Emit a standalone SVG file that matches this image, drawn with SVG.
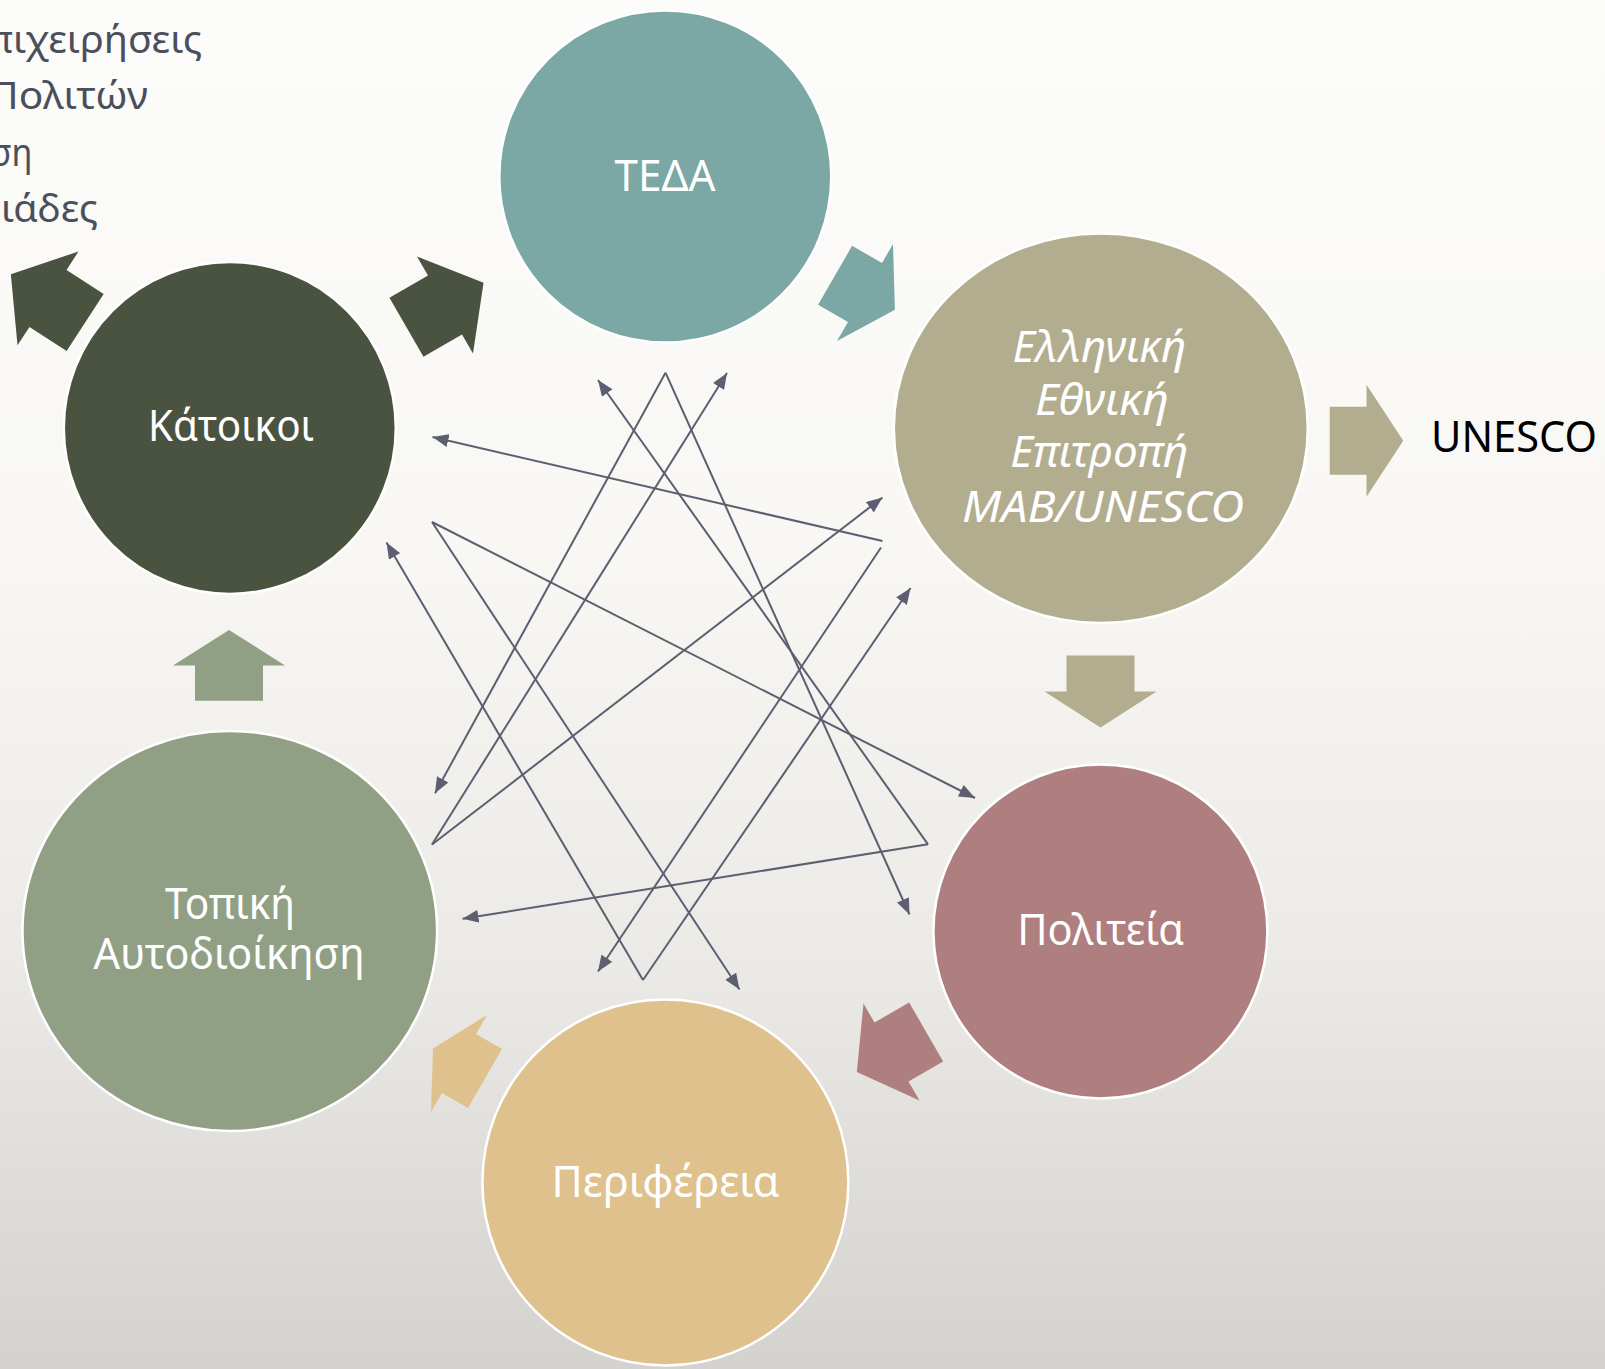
<svg xmlns="http://www.w3.org/2000/svg" width="1605" height="1369" viewBox="0 0 1605 1369">
  <defs>
    <linearGradient id="bg" x1="0" y1="0" x2="0" y2="1">
      <stop offset="0" stop-color="#FCFCFA"/>
      <stop offset="0.4" stop-color="#F8F7F4"/>
      <stop offset="0.7" stop-color="#EBEAE6"/>
      <stop offset="1" stop-color="#D3D2CE"/>
    </linearGradient>
    <marker id="ah" viewBox="0 0 16 13" refX="16" refY="6.5" markerWidth="16" markerHeight="13" markerUnits="userSpaceOnUse" orient="auto">
      <path d="M0,0 L16,6.5 L0,13 Z" fill="#5B5F70"/>
    </marker>
    <style>
      .node { stroke: #FFFFFF; stroke-width: 2.5; }
      .lbl { font-family: 'Noto Sans', 'Open Sans', 'DejaVu Sans', sans-serif; font-size: 43px; fill: #FFFFFF; text-anchor: middle; }
      .it { font-style: italic; }
      .list { font-family: 'Noto Sans', 'Open Sans', 'DejaVu Sans', sans-serif; font-size: 38.5px; fill: #4B4F5C; }
      .ext { font-family: 'Noto Sans', 'Open Sans', 'DejaVu Sans', sans-serif; font-size: 43px; fill: #000000; }
      .link { fill: none; stroke: #5B5F70; stroke-width: 2; }
    </style>
  </defs>

  <rect x="0" y="0" width="1605" height="1369" fill="url(#bg)"/>

  <g id="stakeholders-list">
    <text class="list" x="-13" y="53" textLength="215" lengthAdjust="spacingAndGlyphs">πιχειρήσεις</text>
    <text class="list" x="-11" y="109" textLength="159" lengthAdjust="spacingAndGlyphs">Πολιτών</text>
    <text class="list" x="-9.5" y="165.5" textLength="42" lengthAdjust="spacingAndGlyphs">ση</text>
    <text class="list" x="1" y="222" textLength="97" lengthAdjust="spacingAndGlyphs">ιάδες</text>
  </g>

  <g id="connectors">
    <g id="cycle-arrows">
      <path transform="translate(865,292.5) rotate(30)" fill="#7BA7A4" d="M-34.5,-34 L0,-34 L0,-56 L34.5,0 L0,56 L0,34 L-34.5,34 Z"/>
      <path transform="translate(1100.5,691.5) rotate(90)" fill="#B2AD8F" d="M-36,-34 L0,-34 L0,-56 L36,0 L0,56 L0,34 L-36,34 Z"/>
      <path transform="translate(891.5,1052) rotate(150)" fill="#AF7F7F" d="M-40,-34 L0,-34 L0,-56 L40,0 L0,56 L0,34 L-40,34 Z"/>
      <path transform="translate(459,1063.5) rotate(210)" fill="#DFC18D" d="M-30,-34 L0,-34 L0,-56 L30,0 L0,56 L0,34 L-30,34 Z"/>
      <path transform="translate(229,665.4) rotate(-90)" fill="#91A085" d="M-35.3,-34 L0,-34 L0,-56 L35.3,0 L0,56 L0,34 L-35.3,34 Z"/>
      <path transform="translate(445,305) rotate(-30)" fill="#4A5340" d="M-44.5,-34 L0,-34 L0,-56 L44.5,0 L0,56 L0,34 L-44.5,34 Z"/>
      <path transform="translate(48,298.4) rotate(213)" fill="#4A5340" d="M-44.3,-34 L0,-34 L0,-56 L44.3,0 L0,56 L0,34 L-44.3,34 Z"/>
      <path transform="translate(1366.5,440.7)" fill="#B2AD8F" d="M-36.75,-34 L0,-34 L0,-56 L36.75,0 L0,56 L0,34 L-36.75,34 Z"/>
    </g>
    <g id="link-lines">
      <path class="link" marker-end="url(#ah)" d="M882.5,541 L432.5,437"/>
      <path class="link" marker-end="url(#ah)" d="M432,522 L975,798"/>
      <path class="link" marker-end="url(#ah)" d="M432,522 L739.5,989.5"/>
      <path class="link" marker-end="url(#ah)" d="M432,844.5 L727,373"/>
      <path class="link" marker-end="url(#ah)" d="M432,844.5 L882.5,497.5"/>
      <path class="link" marker-end="url(#ah)" d="M665.5,372.7 L435,793.3"/>
      <path class="link" marker-end="url(#ah)" d="M665.5,372.7 L909.5,914.5"/>
      <path class="link" marker-end="url(#ah)" d="M643,980 L386.5,542.6"/>
      <path class="link" marker-end="url(#ah)" d="M643,980 L910.5,588"/>
      <path class="link" marker-end="url(#ah)" d="M881,547.5 L598,971.5"/>
      <path class="link" marker-end="url(#ah)" d="M928,844.3 L598,380"/>
      <path class="link" marker-end="url(#ah)" d="M928,844.3 L462.5,918.8"/>
    </g>
  </g>

  <g id="node-teda">
    <circle class="node" cx="665.3" cy="176.5" r="166" fill="#7BA7A4"/>
    <text class="lbl" x="665" y="191.4" textLength="101" lengthAdjust="spacingAndGlyphs">ΤΕΔΑ</text>
  </g>
  <g id="node-mab">
    <ellipse class="node" cx="1100.8" cy="428.2" rx="207" ry="194.8" fill="#B2AD8F"/>
    <text class="lbl it" x="1099.4" y="362" textLength="174" lengthAdjust="spacingAndGlyphs">Ελληνική</text>
    <text class="lbl it" x="1101.9" y="414.5" textLength="134" lengthAdjust="spacingAndGlyphs">Εθνική</text>
    <text class="lbl it" x="1099.3" y="467" textLength="178" lengthAdjust="spacingAndGlyphs">Επιτροπή</text>
    <text class="lbl it" x="1103" y="522" textLength="282" lengthAdjust="spacingAndGlyphs">MAB/UNESCO</text>
  </g>
  <g id="node-politeia">
    <circle class="node" cx="1100.4" cy="931.5" r="167" fill="#AF7F7F"/>
    <text class="lbl" x="1100.7" y="945" textLength="167" lengthAdjust="spacingAndGlyphs">Πολιτεία</text>
  </g>
  <g id="node-perifereia">
    <circle class="node" cx="665.4" cy="1182.5" r="183" fill="#DFC18D"/>
    <text class="lbl" x="665.5" y="1197" textLength="228" lengthAdjust="spacingAndGlyphs">Περιφέρεια</text>
  </g>
  <g id="node-topiki">
    <ellipse class="node" cx="229.8" cy="931" rx="207.3" ry="200" fill="#91A085"/>
    <text class="lbl" x="230" y="919" textLength="130" lengthAdjust="spacingAndGlyphs">Τοπική</text>
    <text class="lbl" x="229" y="969" textLength="271" lengthAdjust="spacingAndGlyphs">Αυτοδιοίκηση</text>
  </g>
  <g id="node-katoikoi">
    <circle class="node" cx="229.8" cy="427.9" r="166" fill="#4A5340"/>
    <text class="lbl" x="231" y="441" textLength="166" lengthAdjust="spacingAndGlyphs">Κάτοικοι</text>
  </g>
  <g id="unesco">
    <text class="ext" x="1431" y="452" textLength="166" lengthAdjust="spacingAndGlyphs">UNESCO</text>
  </g>
</svg>
